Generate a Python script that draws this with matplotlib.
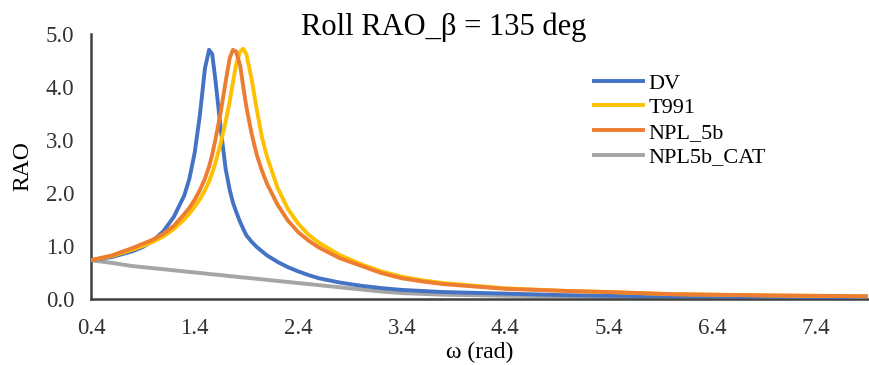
import matplotlib
matplotlib.use('Agg')
import matplotlib.pyplot as plt

plt.rcParams['font.family'] = ['Liberation Serif', 'DejaVu Serif']

# omega (rad) and roll RAO
omega = [0.4, 0.6, 0.8, 0.9, 1.0, 1.1, 1.2, 1.3, 1.35, 1.4, 1.45, 1.5, 1.54, 1.57,
         1.6, 1.65, 1.7, 1.74, 1.77, 1.8, 1.84, 1.87, 1.9, 1.95, 2.0, 2.05, 2.1,
         2.2, 2.3, 2.4, 2.5, 2.6, 2.8, 3.0, 3.2, 3.4, 3.6, 3.8, 4.4, 5.0, 5.4,
         6.0, 7.0, 7.9]

rao_dv = [0.73, 0.79, 0.90, 0.98, 1.10, 1.28, 1.55, 1.95, 2.27, 2.75, 3.45, 4.35,
          4.70, 4.62, 4.15, 3.25, 2.45, 2.05, 1.82, 1.65, 1.45, 1.32, 1.20, 1.08,
          0.98, 0.90, 0.82, 0.70, 0.60, 0.52, 0.45, 0.39, 0.31, 0.25, 0.205, 0.17,
          0.15, 0.13, 0.10, 0.07, 0.06, 0.05, 0.04, 0.03]

rao_t991 = [0.73, 0.81, 0.93, 1.00, 1.08, 1.18, 1.32, 1.50, 1.61, 1.74, 1.88, 2.05,
            2.22, 2.38, 2.56, 2.92, 3.35, 3.74, 4.08, 4.42, 4.67, 4.72, 4.62, 4.15,
            3.58, 3.05, 2.68, 2.10, 1.70, 1.42, 1.21, 1.06, 0.83, 0.66, 0.52, 0.42,
            0.35, 0.30, 0.20, 0.15, 0.13, 0.09, 0.065, 0.05]

rao_npl5b = [0.73, 0.82, 0.96, 1.04, 1.12, 1.23, 1.38, 1.60, 1.72, 1.87, 2.05, 2.27,
             2.50, 2.72, 3.00, 3.50, 4.10, 4.55, 4.70, 4.67, 4.40, 4.00, 3.62, 3.12,
             2.72, 2.42, 2.17, 1.78, 1.48, 1.26, 1.10, 0.97, 0.77, 0.63, 0.49, 0.39,
             0.33, 0.28, 0.19, 0.15, 0.13, 0.09, 0.065, 0.05]

rao_cat = [0.73, 0.68, 0.62, 0.60, 0.58, 0.56, 0.54, 0.52, 0.51, 0.50, 0.49, 0.48,
           0.47, 0.465, 0.46, 0.45, 0.44, 0.43, 0.425, 0.42, 0.41, 0.405, 0.40, 0.39,
           0.38, 0.37, 0.36, 0.34, 0.32, 0.30, 0.28, 0.26, 0.22, 0.18, 0.14, 0.11,
           0.095, 0.08, 0.06, 0.05, 0.04, 0.03, 0.02, 0.02]

x_ticks = [0.4, 1.4, 2.4, 3.4, 4.4, 5.4, 6.4, 7.4]
y_ticks = [0.0, 1.0, 2.0, 3.0, 4.0, 5.0]

fig = plt.figure(figsize=(8.7, 3.65), dpi=100)
ax = fig.add_axes([0.1046, 0.181, 0.893, 0.726])

lw = 2.8
ax.plot(omega, rao_cat, color='#A5A5A5', lw=lw, label='NPL5b_CAT', zorder=2)
ax.plot(omega, rao_dv, color='#4472C4', lw=lw, label='DV', zorder=3)
ax.plot(omega, rao_t991, color='#FFC000', lw=lw, label='T991', zorder=4)
ax.plot(omega, rao_npl5b, color='#ED7D31', lw=lw, label='NPL_5b', zorder=5)

ax.set_xlim(0.4, 7.9)
ax.set_ylim(0, 5.0)
ax.set_xticks(x_ticks)
ax.set_xticklabels([f'{t:.1f}' for t in x_ticks])
ax.set_yticks(y_ticks)
ax.set_yticklabels([f'{t:.1f}' for t in y_ticks])
ax.tick_params(length=0, labelsize=16.5, colors='#333333')
ax.tick_params(axis='x', pad=14)
ax.tick_params(axis='y', pad=12)

for s in ['top', 'right']:
    ax.spines[s].set_visible(False)
for s in ['left', 'bottom']:
    ax.spines[s].set_color('#404040')
    ax.spines[s].set_linewidth(1.8)

fig.suptitle('Roll RAO_β = 135 deg', fontsize=22, x=0.51, y=1 - 27 / 365, va='center')
ax.set_xlabel('ω (rad)', fontsize=17, labelpad=2)
ax.set_ylabel('RAO', fontsize=17, labelpad=9)

handles, labels = ax.get_legend_handles_labels()
order = [1, 2, 3, 0]
ax.legend([handles[i] for i in order], [labels[i] for i in order],
          loc='upper left', bbox_to_anchor=(0.670, 0.830), bbox_transform=fig.transFigure,
          frameon=False, fontsize=16, handlelength=2.2, handletextpad=0.25,
          labelspacing=0.18, borderpad=0)

fig.savefig('out.png', dpi=100)
